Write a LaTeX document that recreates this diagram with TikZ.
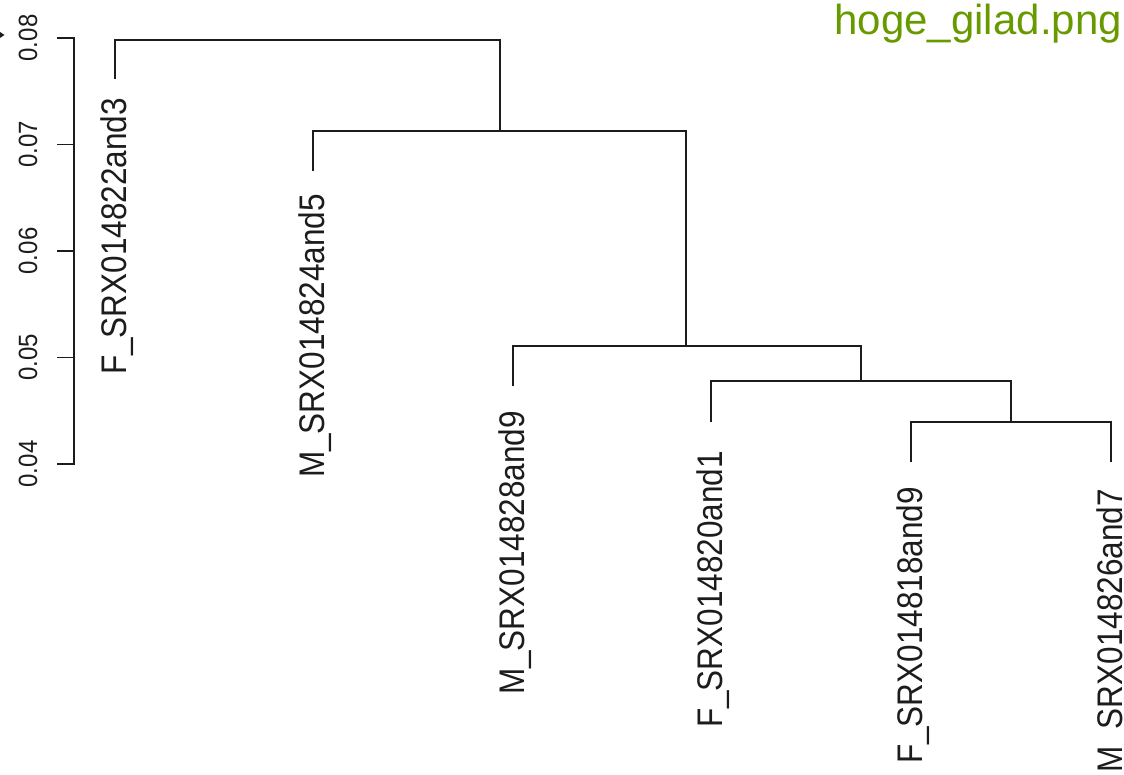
\documentclass[tikz,border=0pt]{standalone}
\usepackage{fontspec}
\setmainfont{Liberation Sans}
\usepackage{graphicx}
\definecolor{ink}{RGB}{28,28,28}
\definecolor{titlegreen}{RGB}{104,154,0}
\begin{document}
\begin{tikzpicture}[x=1pt,y=-1pt,
  tree/.style={draw=ink,line width=1.5pt,line cap=rect},
  leaflabel/.style={rotate=90,anchor=base east,inner sep=0pt,text=ink,
    font=\fontsize{31.5}{36}\selectfont},
  ticklabel/.style={rotate=90,anchor=base,inner sep=0pt,text=ink,
    font=\fontsize{24}{28}\selectfont}]
\useasboundingbox (0,0) rectangle (1124,775);

% title
\node[anchor=base east,inner sep=0pt,text=titlegreen,
  font=\fontsize{42}{48}\selectfont] (title) at (1122,35) {hoge\_gilad.png};

% small marker at the left edge
\fill[ink] (0,32) -- (4.5,35) -- (0,38) -- cycle;

% height axis
\coordinate (ax08) at (74,38);
\coordinate (ax07) at (74,144.5);
\coordinate (ax06) at (74,251);
\coordinate (ax05) at (74,357.5);
\coordinate (ax04) at (74,464);
\draw[tree] (ax08) -- (ax04);
\foreach \c/\t in {ax08/0.08,ax07/0.07,ax06/0.06,ax05/0.05,ax04/0.04}{
  \draw[tree] (\c) -- ++(-16,0);
  \node[ticklabel] at ([xshift=-37pt]\c) {\scalebox{1}[1.1]{\t}};
}

% merge points of the tree
\coordinate (R) at (307.5,40);
\coordinate (A) at (500,131);
\coordinate (B) at (686,346);
\coordinate (C) at (861,381);
\coordinate (D) at (1011,422);

% free ends of the leaves
\coordinate (e1) at (115,78);
\coordinate (e2) at (313,170);
\coordinate (e3) at (513,385);
\coordinate (e4) at (711,421);
\coordinate (e5) at (911,461);
\coordinate (e6) at (1111,461);

% branches
\draw[tree] (e1) |- (R) -| (A);
\draw[tree] (e2) |- (A) -| (B);
\draw[tree] (e3) |- (B) -| (C);
\draw[tree] (e4) |- (C) -| (D);
\draw[tree] (e5) |- (D) -| (e6);

% leaf labels
\node[leaflabel] (lab1) at (126,98)  {\scalebox{1}[1.13]{F\_SRX014822and3}};
\node[leaflabel] (lab2) at (324,194) {\scalebox{1}[1.13]{M\_SRX014824and5}};
\node[leaflabel] (lab3) at (524,411) {\scalebox{1}[1.13]{M\_SRX014828and9}};
\node[leaflabel] (lab4) at (722,451) {\scalebox{1}[1.13]{F\_SRX014820and1}};
\node[leaflabel] (lab5) at (922,487) {\scalebox{1}[1.13]{F\_SRX014818and9}};
\node[leaflabel] (lab6) at (1122,489) {\scalebox{1}[1.13]{M\_SRX014826and7}};
\end{tikzpicture}
\end{document}
